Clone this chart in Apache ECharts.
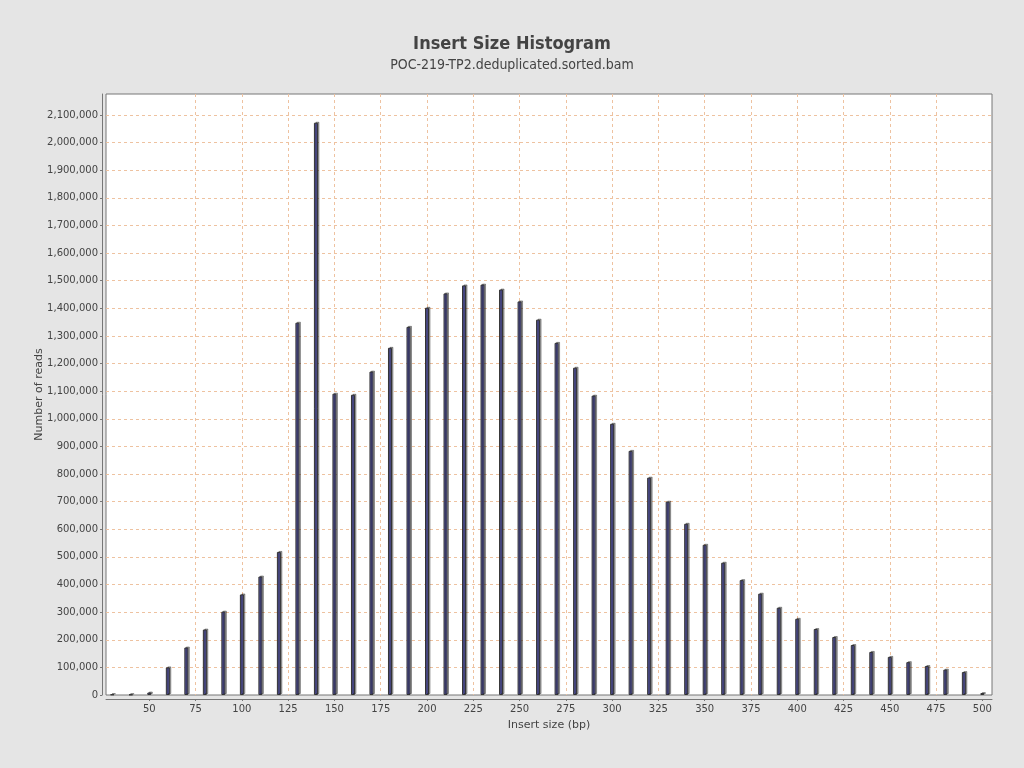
<!DOCTYPE html>
<html>
<head>
<meta charset="utf-8">
<script src="https://cdn.jsdelivr.net/npm/echarts@6/dist/echarts.min.js"></script>
<style>
html,body{margin:0;padding:0;background:#e5e5e5;}
#chart{width:1024px;height:768px;}
</style>
</head>
<body>
<div id="chart"></div>
<script>
const insertSizes = [30,40,50,60,70,80,90,100,110,120,130,140,150,160,170,180,190,200,210,220,230,240,250,260,270,280,290,300,310,320,330,340,350,360,370,380,390,400,410,420,430,440,450,460,470,480,490,500];
const readCounts = [2000,1500,9000,100000,172000,237000,302000,364000,429000,518000,1348000,2072000,1091000,1087000,1171000,1257000,1333000,1402000,1454000,1483000,1486000,1468000,1425000,1359000,1275000,1185000,1084000,982000,884000,787000,700000,620000,544000,479000,416000,367000,316000,276000,239000,210000,181000,156000,138000,119000,105000,92000,83000,7000];
const xTickValues = [50,75,100,125,150,175,200,225,250,275,300,325,350,375,400,425,450,475,500];

const chart = echarts.init(document.getElementById('chart'), null, {renderer:'canvas'});
const font = 'DejaVu Sans';
const gridColor = '#eec2a0';

const option = {
  backgroundColor: '#e5e5e5',
  animation: false,
  title: [
    {text:'Insert Size Histogram', left:'center', top:30,
     textStyle:{fontFamily:'DejaVu Sans Condensed', fontWeight:'bold', fontSize:18, color:'#444'}},
    {text:'POC-219-TP2.deduplicated.sorted.bam', left:'center', top:53,
     textStyle:{fontFamily:'DejaVu Sans Condensed', fontWeight:'normal', fontSize:14, color:'#444'}}
  ],
  grid: {left:106, top:94, width:886, height:601, show:true, backgroundColor:'#ffffff', borderColor:'#777', borderWidth:1},
  xAxis: {
    type:'value', min:26.6, max:505.2,
    offset:4,
    name:'Insert size (bp)', nameLocation:'middle', nameGap:21, nameMoveOverlap:false,
    nameTextStyle:{fontFamily:font, fontSize:11, color:'#444'},
    axisLine:{show:true, onZero:false, lineStyle:{color:'#777'}},
    axisTick:{show:true, length:2, customValues:xTickValues, lineStyle:{color:'#777'}},
    axisLabel:{customValues:xTickValues, fontFamily:font, fontSize:10, color:'#444', margin:5},
    splitLine:{show:true, showMinLine:false, showMaxLine:false, lineStyle:{color:gridColor, type:[3,3], width:1}}
  },
  yAxis: {
    type:'value', min:0, max:2176000, interval:100000,
    offset:4,
    name:'Number of reads', nameLocation:'middle', nameGap:57, nameRotate:90, nameMoveOverlap:false,
    nameTextStyle:{fontFamily:font, fontSize:11, color:'#444'},
    axisLine:{show:true, lineStyle:{color:'#777'}},
    axisTick:{show:true, length:2, lineStyle:{color:'#777'}},
    axisLabel:{fontFamily:font, fontSize:10, color:'#444', margin:4, showMaxLabel:false,
      formatter: v => v.toLocaleString('en-US')},
    splitLine:{show:true, showMinLine:false, showMaxLine:false, lineStyle:{color:gridColor, type:[3,3], width:1}}
  },
  series: [{
    type:'bar',
    barWidth:4,
    data: insertSizes.map((x,i)=>[x, readCounts[i]]),
    itemStyle:{color:'#55559a', borderColor:'#333', borderWidth:1,
      shadowColor:'rgba(0,0,0,0.35)', shadowBlur:0, shadowOffsetX:1.5, shadowOffsetY:-1}
  }]
};
chart.setOption(option);
</script>
</body>
</html>
